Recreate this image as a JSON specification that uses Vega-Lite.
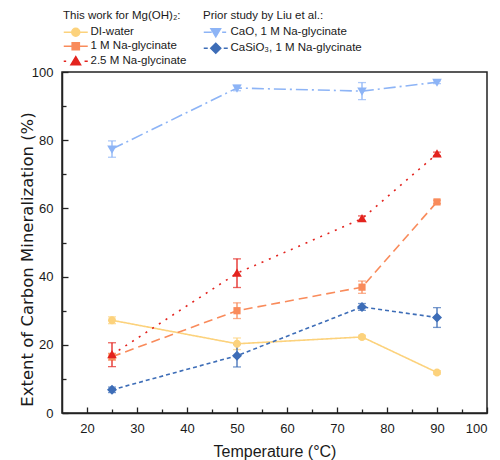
{
  "$schema": "https://vega.github.io/schema/vega-lite/v6.json",
  "width": 425,
  "height": 341,
  "autosize": {"type": "none"},
  "padding": {"left": 62, "top": 72, "right": 13, "bottom": 47},
  "config": {
    "font": "Liberation Sans",
    "view": {"stroke": "#222222", "strokeWidth": 1.5},
    "axis": {
      "domainColor": "#222222",
      "domainWidth": 1.5,
      "tickColor": "#222222",
      "tickWidth": 1.3,
      "labelFontSize": 13,
      "labelColor": "#1a1a1a",
      "titleColor": "#1a1a1a",
      "titleFontWeight": "normal",
      "grid": false
    },
    "legend": {
      "titleFontWeight": "normal",
      "titleFontSize": 11.5,
      "titleColor": "#1a1a1a",
      "labelFontSize": 11.5,
      "labelColor": "#1a1a1a",
      "padding": 0
    }
  },
  "datasets": {
    "pts": [
      {"series": "DI-water", "T": 25, "v": 27.2, "lo": 26.2, "hi": 28.2},
      {"series": "DI-water", "T": 50, "v": 20.3, "lo": 18.6, "hi": 22.0},
      {"series": "DI-water", "T": 75, "v": 22.3, "lo": 21.8, "hi": 22.8},
      {"series": "DI-water", "T": 90, "v": 11.9, "lo": 11.4, "hi": 12.4},
      {"series": "1 M Na-glycinate", "T": 25, "v": 16.5, "lo": 15.5, "hi": 17.5},
      {"series": "1 M Na-glycinate", "T": 50, "v": 30.0, "lo": 27.7, "hi": 32.3},
      {"series": "1 M Na-glycinate", "T": 75, "v": 36.9, "lo": 35.1, "hi": 38.7},
      {"series": "1 M Na-glycinate", "T": 90, "v": 61.9, "lo": 61.4, "hi": 62.4},
      {"series": "2.5 M Na-glycinate", "T": 25, "v": 17.1, "lo": 13.6, "hi": 20.6},
      {"series": "2.5 M Na-glycinate", "T": 50, "v": 41.0, "lo": 36.8, "hi": 45.2},
      {"series": "2.5 M Na-glycinate", "T": 75, "v": 57.0, "lo": 56.2, "hi": 57.8},
      {"series": "2.5 M Na-glycinate", "T": 90, "v": 76.0, "lo": 75.5, "hi": 76.5},
      {"series": "CaO, 1 M Na-glycinate", "T": 25, "v": 77.4, "lo": 75.0, "hi": 79.8},
      {"series": "CaO, 1 M Na-glycinate", "T": 50, "v": 95.3, "lo": 94.5, "hi": 96.1},
      {"series": "CaO, 1 M Na-glycinate", "T": 75, "v": 94.4, "lo": 91.9, "hi": 96.9},
      {"series": "CaO, 1 M Na-glycinate", "T": 90, "v": 97.0, "lo": 96.6, "hi": 97.4},
      {"series": "CaSiO₃, 1 M Na-glycinate", "T": 25, "v": 6.8, "lo": 6.0, "hi": 7.6},
      {"series": "CaSiO₃, 1 M Na-glycinate", "T": 50, "v": 16.8, "lo": 13.5, "hi": 20.1},
      {"series": "CaSiO₃, 1 M Na-glycinate", "T": 75, "v": 31.1, "lo": 30.1, "hi": 32.1},
      {"series": "CaSiO₃, 1 M Na-glycinate", "T": 90, "v": 28.0, "lo": 25.1, "hi": 30.9}
    ],
    "mgleg": [
      {"series": "DI-water"},
      {"series": "1 M Na-glycinate"},
      {"series": "2.5 M Na-glycinate"}
    ],
    "liuleg": [
      {"series": "CaO, 1 M Na-glycinate"},
      {"series": "CaSiO₃, 1 M Na-glycinate"}
    ]
  },
  "encoding": {
    "x": {
      "field": "T", "type": "quantitative",
      "scale": {"domain": [15, 100], "nice": false, "zero": false},
      "axis": {
        "title": "Temperature (°C)",
        "titleFontSize": 16,
        "titleBaseline": "alphabetic",
        "titleY": 43,
        "values": [20, 25, 30, 35, 40, 45, 50, 55, 60, 65, 70, 75, 80, 85, 90, 95, 100],
        "labelExpr": "datum.value % 10 === 0 ? datum.label : ''",
        "tickSize": {"condition": {"test": "datum.value % 10 === 0", "value": -6}, "value": -4},
        "labelPadding": 15
      }
    },
    "y": {
      "field": "v", "type": "quantitative",
      "scale": {"domain": [0, 100], "nice": false},
      "axis": {
        "title": "Extent of Carbon Mineralization (%)",
        "titleFont": "DejaVu Sans",
        "titleFontSize": 16.5,
        "titleAngle": -90,
        "titleAlign": "center",
        "titleBaseline": "alphabetic",
        "titleX": -30,
        "titleY": 187,
        "values": [0, 10, 20, 30, 40, 50, 60, 70, 80, 90, 100],
        "labelExpr": "datum.value % 20 === 0 ? datum.label : ''",
        "tickSize": {"condition": {"test": "datum.value % 20 === 0", "value": -6}, "value": -4},
        "labelPadding": 15
      }
    }
  },
  "layer": [
    {
      "data": {"name": "pts"},
      "layer": [
        {
          "mark": {"type": "errorbar", "ticks": {"size": 8}, "thickness": 1.3},
          "encoding": {
            "y": {"field": "lo", "type": "quantitative", "title": "Extent of Carbon Mineralization (%)"},
            "y2": {"field": "hi"},
            "color": {
              "field": "series", "type": "nominal", "legend": null,
              "scale": {
                "domain": ["DI-water", "1 M Na-glycinate", "2.5 M Na-glycinate", "CaO, 1 M Na-glycinate", "CaSiO₃, 1 M Na-glycinate"],
                "range": ["#FCD27C", "#F98B5B", "#E3231E", "#8DB4F6", "#3D6DB7"]
              }
            }
          }
        },
        {
          "mark": {"type": "line", "strokeWidth": 1.6},
          "encoding": {
            "color": {"field": "series", "type": "nominal", "legend": null},
            "strokeDash": {
              "field": "series", "type": "nominal", "legend": null,
              "scale": {
                "domain": ["DI-water", "1 M Na-glycinate", "2.5 M Na-glycinate", "CaO, 1 M Na-glycinate", "CaSiO₃, 1 M Na-glycinate"],
                "range": [[1, 0], [9, 5], [2, 6], [12, 4, 2, 4], [4, 3]]
              }
            }
          }
        },
        {
          "mark": {"type": "point", "filled": true, "opacity": 1, "size": 64},
          "encoding": {
            "color": {"field": "series", "type": "nominal", "legend": null},
            "shape": {
              "field": "series", "type": "nominal", "legend": null,
              "scale": {
                "domain": ["DI-water", "1 M Na-glycinate", "2.5 M Na-glycinate", "CaO, 1 M Na-glycinate", "CaSiO₃, 1 M Na-glycinate"],
                "range": [
                  "M-1,0A1,1 0 1,1 1,0A1,1 0 1,1 -1,0Z",
                  "M-0.9,-0.9H0.9V0.9H-0.9Z",
                  "M0,-1.15L1.2,0.9H-1.2Z",
                  "M0,1.15L1.2,-0.9H-1.2Z",
                  "M0,-1.25L1.25,0L0,1.25L-1.25,0Z"
                ]
              }
            }
          }
        }
      ]
    },
    {
      "data": {"name": "mgleg"},
      "mark": {"type": "point", "filled": true, "opacity": 1, "size": 64, "strokeWidth": 1.5},
      "encoding": {
        "fill": {
          "field": "series", "type": "nominal",
          "scale": {"domain": ["DI-water", "1 M Na-glycinate", "2.5 M Na-glycinate"], "range": ["#FCD27C", "#F98B5B", "#E3231E"]},
          "legend": {"title": "This work for Mg(OH)₂:", "orient": "none", "legendX": 1, "legendY": -62, "symbolSize": 64, "symbolStrokeWidth": 1.5, "symbolOffset": 7, "labelOffset": 9, "rowPadding": 0, "titlePadding": 5}
        },
        "stroke": {
          "field": "series", "type": "nominal",
          "scale": {"domain": ["DI-water", "1 M Na-glycinate", "2.5 M Na-glycinate"], "range": ["#FCD27C", "#F98B5B", "#E3231E"]},
          "legend": {"title": "This work for Mg(OH)₂:", "orient": "none", "legendX": 1, "legendY": -62, "symbolSize": 64, "symbolStrokeWidth": 1.5, "symbolOffset": 7, "labelOffset": 9, "rowPadding": 0, "titlePadding": 5}
        },
        "shape": {
          "field": "series", "type": "nominal",
          "scale": {
            "domain": ["DI-water", "1 M Na-glycinate", "2.5 M Na-glycinate"],
            "range": [
              "M-3,0H-1M1,0H3M-1,0A1,1 0 1,1 1,0A1,1 0 1,1 -1,0Z",
              "M-3,0H-1M1,0H3M-0.9,-0.9H0.9V0.9H-0.9Z",
              "M-3,0H-2.4M2.2,0H3M0,-1.15L1.2,0.9H-1.2Z"
            ]
          },
          "legend": {"title": "This work for Mg(OH)₂:", "orient": "none", "legendX": 1, "legendY": -62, "symbolSize": 64, "symbolStrokeWidth": 1.5, "symbolOffset": 7, "labelOffset": 9, "rowPadding": 0, "titlePadding": 5}
        }
      }
    },
    {
      "data": {"name": "liuleg"},
      "mark": {"type": "point", "filled": true, "opacity": 1, "size": 64, "strokeWidth": 1.5},
      "encoding": {
        "fill": {
          "field": "series", "type": "nominal",
          "scale": {"domain": ["CaO, 1 M Na-glycinate", "CaSiO₃, 1 M Na-glycinate"], "range": ["#8DB4F6", "#3D6DB7"]},
          "legend": {"title": "Prior study by Liu et al.:", "orient": "none", "legendX": 141, "legendY": -62, "symbolSize": 64, "symbolStrokeWidth": 1.5, "symbolOffset": 7, "labelOffset": 9, "rowPadding": -1, "titlePadding": 5}
        },
        "stroke": {
          "field": "series", "type": "nominal",
          "scale": {"domain": ["CaO, 1 M Na-glycinate", "CaSiO₃, 1 M Na-glycinate"], "range": ["#8DB4F6", "#3D6DB7"]},
          "legend": {"title": "Prior study by Liu et al.:", "orient": "none", "legendX": 141, "legendY": -62, "symbolSize": 64, "symbolStrokeWidth": 1.5, "symbolOffset": 7, "labelOffset": 9, "rowPadding": -1, "titlePadding": 5}
        },
        "shape": {
          "field": "series", "type": "nominal",
          "scale": {
            "domain": ["CaO, 1 M Na-glycinate", "CaSiO₃, 1 M Na-glycinate"],
            "range": [
              "M-3,0H-1M1.6,0H2.6M0,1.15L1.2,-0.9H-1.2Z",
              "M-3,0H-2M2,0H3M0,-1.25L1.25,0L0,1.25L-1.25,0Z"
            ]
          },
          "legend": {"title": "Prior study by Liu et al.:", "orient": "none", "legendX": 141, "legendY": -62, "symbolSize": 64, "symbolStrokeWidth": 1.5, "symbolOffset": 7, "labelOffset": 9, "rowPadding": -1, "titlePadding": 5}
        }
      }
    }
  ],
  "resolve": {
    "scale": {"fill": "independent", "stroke": "independent", "shape": "independent", "color": "independent", "strokeDash": "independent"}
  }
}
